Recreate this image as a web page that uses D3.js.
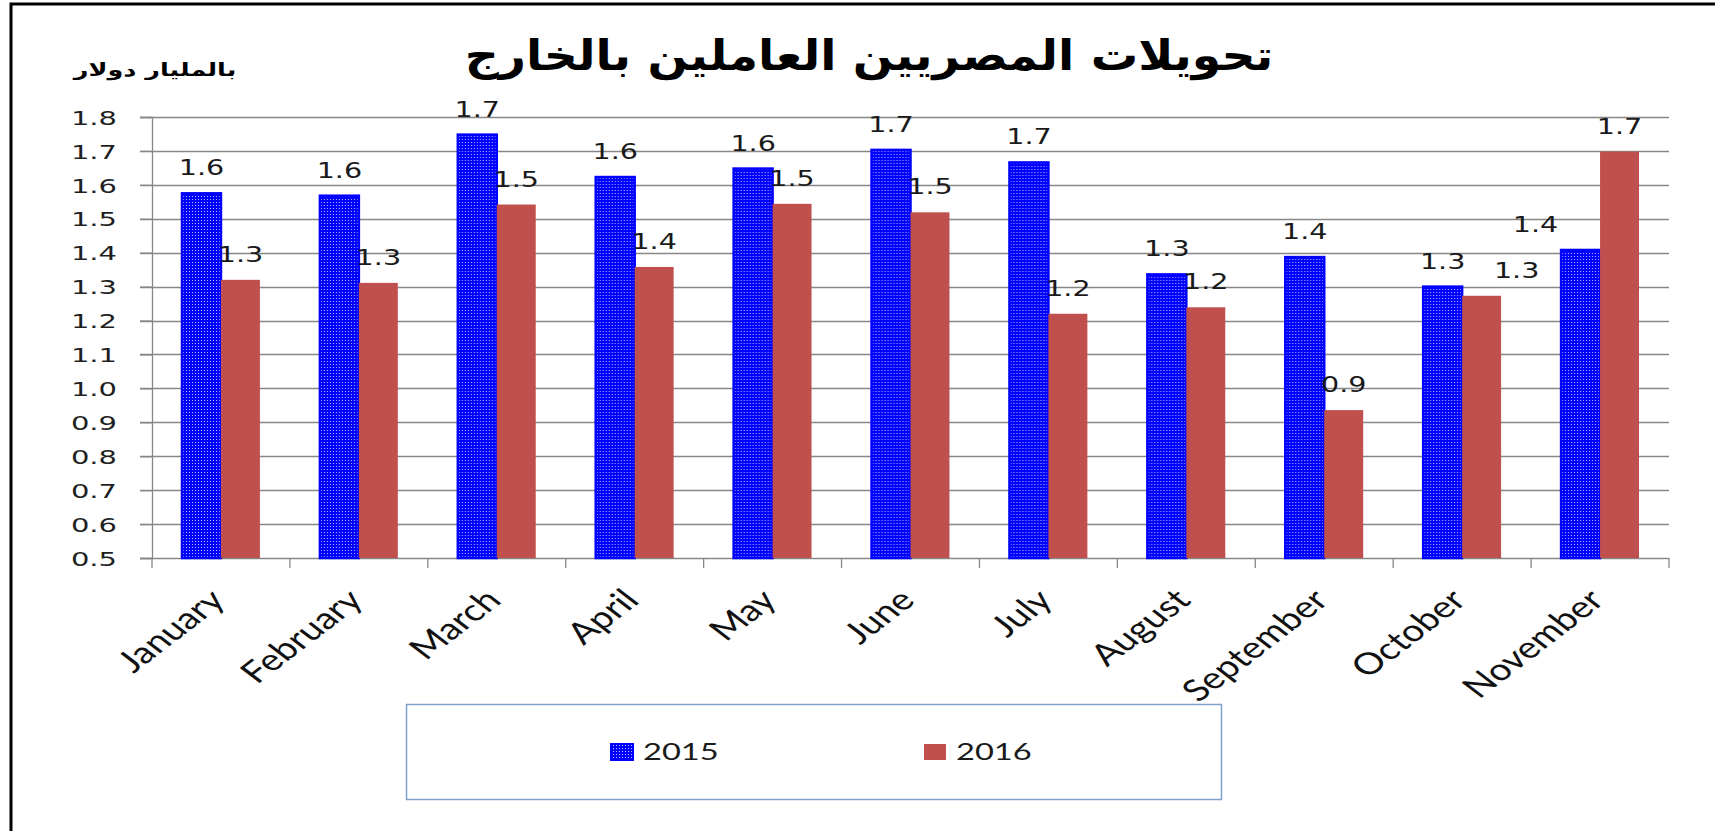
<!DOCTYPE html>
<html>
<head>
<meta charset="utf-8">
<script src="https://cdn.jsdelivr.net/npm/d3@7"></script>
<style>
  body { margin: 0; background: #ffffff; }
</style>
</head>
<body>
<div id="chart"></div>
<script>
// data (billion dollars)
var months = ["January", "February", "March", "April", "May", "June",
              "July", "August", "September", "October", "November"];
var series = ["2015", "2016"];
var values2015 = [1.575, 1.568, 1.748, 1.623, 1.648, 1.703, 1.666, 1.336, 1.387, 1.300, 1.408];
var values2016 = [1.320, 1.311, 1.542, 1.358, 1.544, 1.519, 1.220, 1.239, 0.936, 1.273, 1.698];
var yTicks = [0.5, 0.6, 0.7, 0.8, 0.9, 1.0, 1.1, 1.2, 1.3, 1.4, 1.5, 1.6, 1.7, 1.8];
var title = "تحويلات المصريين العاملين بالخارج";
var unitLabel = "بالمليار دولار";

var w = 1715, h = 831;
var plot_left = 152, plot_right = 1669, plot_top = 117, plot_bottom = 558;
var blue = "#0000ff", red = "#c0504d", grid = "#878787";

var svg = d3.select("#chart").append("svg")
  .attr("width", w).attr("height", h);

// dotted fill like the Excel pattern
var pat = svg.append("defs").append("pattern")
  .attr("id", "dots").attr("width", 3).attr("height", 3)
  .attr("patternUnits", "userSpaceOnUse");
pat.append("rect").attr("width", 3).attr("height", 3).attr("fill", blue);
pat.append("rect").attr("x", 1).attr("y", 1).attr("width", 1).attr("height", 1).attr("fill", "#b8b8ff");

// outer frame
svg.append("rect")
  .attr("x", 11).attr("y", 4).attr("width", w + 20).attr("height", h + 20)
  .attr("fill", "none").attr("stroke", "#000").attr("stroke-width", 3);

var rows = months.map(function(m, i){ return {month: m, "2015": values2015[i], "2016": values2016[i]}; });

var y = d3.scaleLinear().domain([0.5, 1.8]).range([plot_bottom, plot_top]);
var x0 = d3.scaleBand().domain(months).range([plot_left, plot_right]);
var x1 = d3.scaleBand().domain(series).range([0, x0.bandwidth()]).paddingOuter(0.77);

// stretch text horizontally the way the source picture is
function place(sel, x, yy, sx, extra){
  sel.attr("x", 0).attr("y", 0)
    .attr("transform", "translate(" + x + "," + yy + ") scale(" + sx + ",1)" + (extra || ""));
}

// gridlines
svg.append("g").selectAll("line")
  .data(yTicks)
  .enter().append("line")
  .attr("x1", plot_left - 12).attr("x2", plot_right)
  .attr("y1", function(d){ return Math.round(y(d)) + 0.5; })
  .attr("y2", function(d){ return Math.round(y(d)) + 0.5; })
  .attr("stroke", grid).attr("stroke-width", 1.3);

// y axis
var yAxis = svg.append("g")
  .attr("transform", "translate(" + plot_left + ",0)")
  .call(d3.axisLeft(y).tickValues(yTicks).tickFormat(d3.format(".1f")).tickSize(12));
yAxis.select(".domain").attr("stroke", grid).attr("stroke-width", 1.3);
yAxis.selectAll(".tick line").attr("stroke", grid).attr("stroke-width", 1.3);
yAxis.selectAll(".tick text").each(function(){
  d3.select(this)
    .attr("font-family", "DejaVu Sans").attr("font-size", 20).attr("fill", "#1f1f1f")
    .attr("text-anchor", "end").attr("dy", "0.36em");
  place(d3.select(this), -35, 0, 1.45);
});

// category ticks on the x axis
svg.append("g").selectAll("line")
  .data(d3.range(months.length + 1))
  .enter().append("line")
  .attr("x1", function(i){ return plot_left + i * x0.step(); })
  .attr("x2", function(i){ return plot_left + i * x0.step(); })
  .attr("y1", plot_bottom).attr("y2", plot_bottom + 10)
  .attr("stroke", grid).attr("stroke-width", 1.3);

// bars
var groups = svg.append("g").selectAll("g")
  .data(rows)
  .enter().append("g")
  .attr("transform", function(d){ return "translate(" + x0(d.month) + ",0)"; });

groups.append("rect")
  .attr("x", x1("2015"))
  .attr("y", function(d){ return y(d["2015"]); })
  .attr("width", x1.bandwidth())
  .attr("height", function(d){ return plot_bottom - y(d["2015"]); })
  .attr("fill", "url(#dots)")
  .attr("stroke", blue).attr("stroke-width", 2.5);

groups.append("rect")
  .attr("x", x1("2016"))
  .attr("y", function(d){ return y(d["2016"]); })
  .attr("width", x1.bandwidth())
  .attr("height", function(d){ return plot_bottom - y(d["2016"]); })
  .attr("fill", red);

// data labels (two of them are pushed sideways in the original)
var labelNudge = {"November|2015": -45, "October|2016": 35};
series.forEach(function(s){
  groups.append("text")
    .attr("font-family", "DejaVu Sans").attr("font-size", 22).attr("fill", "#1a1a1a")
    .attr("text-anchor", "middle")
    .text(function(d){ return d3.format(".1f")(d[s]); })
    .each(function(d){
      var dx = labelNudge[d.month + "|" + s] || 0;
      place(d3.select(this), x1(s) + x1.bandwidth() / 2 + dx, y(d[s]) - 18, 1.3);
    });
});

// month labels
svg.append("g").selectAll("text")
  .data(months)
  .enter().append("text")
  .attr("font-family", "Lato").attr("font-size", 30).attr("fill", "#111")
  .attr("text-anchor", "end")
  .text(function(d){ return d; })
  .each(function(d){
    place(d3.select(this), x0(d) + x0.bandwidth() / 2 + 6, plot_bottom + 44, 1.3, " rotate(-45)");
  });

// title
var t = svg.append("text")
  .attr("font-family", "DejaVu Sans").attr("font-weight", "bold").attr("font-size", 42)
  .attr("direction", "rtl").attr("fill", "#000")
  .text(title);
var tw = t.node().getBBox().width;
t.attr("text-anchor", "middle");
place(t, 869, 70, 809 / tw);

var u = svg.append("text")
  .attr("font-family", "DejaVu Sans").attr("font-weight", "bold").attr("font-size", 18)
  .attr("direction", "rtl").attr("fill", "#000")
  .text(unitLabel);
var uw = u.node().getBBox().width;
u.attr("text-anchor", "middle");
place(u, 155, 76, 164 / uw);

// legend
var legend = svg.append("g");
legend.append("rect")
  .attr("x", 406.5).attr("y", 704.5).attr("width", 815).attr("height", 95)
  .attr("fill", "#fff").attr("stroke", "#7f9fcf").attr("stroke-width", 1.5);
var legendItems = [
  {name: series[0], fill: "url(#dots)", stroke: blue, x: 610},
  {name: series[1], fill: red, stroke: "none", x: 923}
];
legendItems.forEach(function(it){
  legend.append("rect")
    .attr("x", it.x + 1).attr("y", 744).attr("width", 22).attr("height", 16)
    .attr("fill", it.fill).attr("stroke", it.stroke).attr("stroke-width", 2);
  var lt = legend.append("text")
    .attr("font-family", "Lato").attr("font-size", 24).attr("fill", "#1a1a1a")
    .text(it.name);
  place(lt, it.x + 33, 760, 1.36);
});
</script>
</body>
</html>
